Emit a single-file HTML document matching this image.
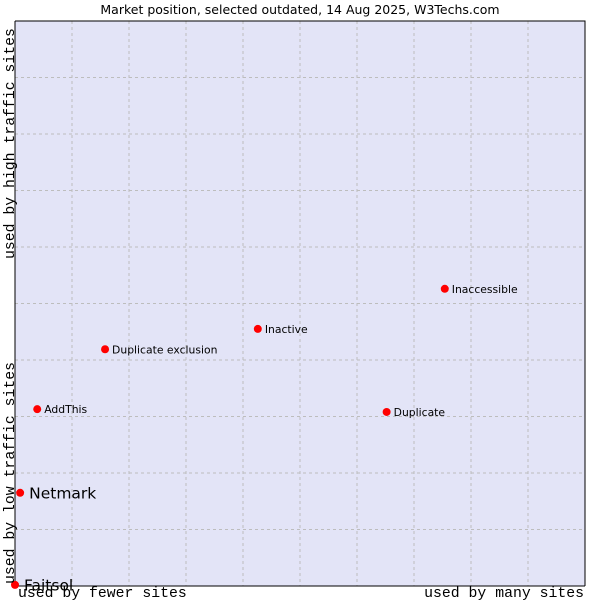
<!DOCTYPE html>
<html><head><meta charset="utf-8"><style>
body{margin:0;background:#fff;width:600px;height:600px;overflow:hidden}
svg{display:block}
</style></head><body>
<svg width="600" height="600" xmlns="http://www.w3.org/2000/svg">
<text x="300" y="14" text-anchor="middle" font-family="DejaVu Sans, Liberation Sans, sans-serif" font-size="12.5" fill="#000">Market position, selected outdated, 14 Aug 2025, W3Techs.com</text>
<rect x="15" y="21" width="570" height="565" fill="#e3e4f7"/>
<g id="grid"></g>
<path d="M15 21 H585 V586 M15 21 V586 H585" fill="none" stroke="#000" stroke-width="1"/>
<g id="pts"></g>
<text x="14" y="259" transform="rotate(-90 14 259)" font-family="Liberation Mono, DejaVu Sans Mono, monospace" font-size="14.8" fill="#000">used by high traffic sites</text>
<text x="14" y="584" transform="rotate(-90 14 584)" font-family="Liberation Mono, DejaVu Sans Mono, monospace" font-size="14.8" fill="#000">used by low traffic sites</text>
<text x="18" y="597" font-family="Liberation Mono, DejaVu Sans Mono, monospace" font-size="14.8" fill="#000">used by fewer sites</text>
<text x="584" y="597" text-anchor="end" font-family="Liberation Mono, DejaVu Sans Mono, monospace" font-size="14.8" fill="#000">used by many sites</text>
</svg>
<script>
const names=["Faitsol","Netmark","AddThis","Duplicate exclusion","Inactive","Duplicate","Inaccessible"];
const xVals=[0,0.9,3.9,15.8,42.6,65.2,75.4];
const yVals=[0.2,16.5,31.3,41.9,45.5,30.8,52.6];
const bigLabel=[true,true,false,false,false,false,false];
const NS="http://www.w3.org/2000/svg";
const L=15,R=585,T=21,B=586;
const xs=v=>L+v/100*(R-L);
const ys=v=>B-v/100*(B-T);
const g=document.getElementById('grid');
for(let i=1;i<10;i++){
  const vx=document.createElementNS(NS,'line');
  
  
  vx.setAttribute('x1',xs(i*10));vx.setAttribute('x2',xs(i*10));vx.setAttribute('y1',T);vx.setAttribute('y2',B);
  vx.setAttribute('stroke','#bdbdbd');vx.setAttribute('stroke-dasharray','3,3');g.appendChild(vx);
  const hz=document.createElementNS(NS,'line');
  
  
  hz.setAttribute('y1',ys(i*10));hz.setAttribute('y2',ys(i*10));hz.setAttribute('x1',L);hz.setAttribute('x2',R);
  hz.setAttribute('stroke','#bdbdbd');hz.setAttribute('stroke-dasharray','3,3');g.appendChild(hz);
}
const p=document.getElementById('pts');
names.forEach((n,i)=>{
  const cx=xs(xVals[i]),cy=ys(yVals[i]);
  const d=document.createElementNS(NS,'circle');
  
  
  d.setAttribute('cx',cx);d.setAttribute('cy',cy);d.setAttribute('r','4');
  d.setAttribute('fill','#ff0000');p.appendChild(d);
  const t=document.createElementNS(NS,'text');
  
  
  t.setAttribute('x',cx+(bigLabel[i]?9:7));
  t.setAttribute('y',cy+(bigLabel[i]?5.5:4));
  t.setAttribute('font-family','DejaVu Sans, Liberation Sans, sans-serif');
  t.setAttribute('font-size',bigLabel[i]?'15.5':'10.8');
  t.setAttribute('fill','#000');
  t.textContent=n;p.appendChild(t);
});
</script>
</body></html>
